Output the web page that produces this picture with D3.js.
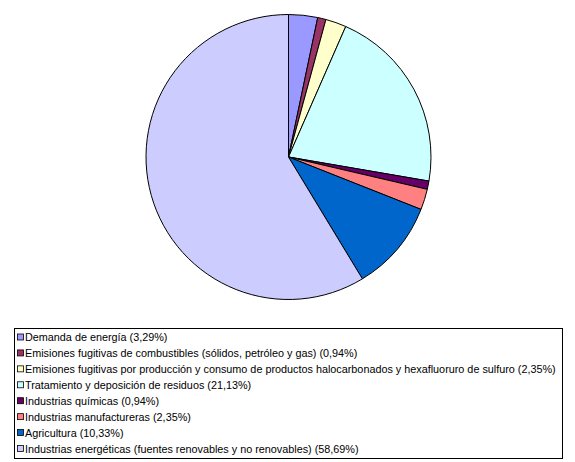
<!DOCTYPE html>
<html>
<head>
<meta charset="utf-8">
<script src="https://cdn.jsdelivr.net/npm/d3@7"></script>
<style>
  html, body { margin: 0; padding: 0; background: #fff; }
  svg { display: block; }
</style>
</head>
<body>
<svg id="chart" width="575" height="462"></svg>
<script>
const categories = [
  "Demanda de energía (3,29%)",
  "Emisiones fugitivas de combustibles (sólidos, petróleo y gas) (0,94%)",
  "Emisiones fugitivas por producción y consumo de productos halocarbonados y hexafluoruro de sulfuro (2,35%)",
  "Tratamiento y deposición de residuos (21,13%)",
  "Industrias químicas (0,94%)",
  "Industrias manufactureras (2,35%)",
  "Agricultura (10,33%)",
  "Industrias energéticas (fuentes renovables y no renovables) (58,69%)"
];
const values = [3.29, 0.94, 2.35, 21.13, 0.94, 2.35, 10.33, 58.69];
const colors = ["#9999FF", "#993366", "#FFFFCC", "#CCFFFF", "#660066", "#FF8080", "#0066CC", "#CCCCFF"];

const svg = d3.select("#chart");
const cx = 288.5, cy = 157, r = 142.5;

const pie = d3.pie().sort(null).value(d => d)(values);
const arc = d3.arc().innerRadius(0).outerRadius(r);
const color = d3.scaleOrdinal().domain(d3.range(values.length)).range(colors);

svg.append("g")
  .attr("transform", `translate(${cx},${cy})`)
  .selectAll("path")
  .data(pie)
  .join("path")
  .attr("d", arc)
  .attr("fill", (d, i) => color(i))
  .attr("stroke", "#000")
  .attr("stroke-width", 1)
  .attr("stroke-linejoin", "round");

// Legend
const lx = 14.5, ly = 328.5, lw = 548, lh = 130;
const lg = svg.append("g");
lg.append("rect")
  .attr("x", lx).attr("y", ly).attr("width", lw).attr("height", lh)
  .attr("fill", "#fff").attr("stroke", "#000").attr("stroke-width", 1);

const rowY = d3.scaleLinear().domain([0, categories.length - 1]).range([337.5, 449]);

const items = lg.selectAll("g.item")
  .data(categories)
  .join("g")
  .attr("class", "item");

items.append("rect")
  .attr("x", 17.5)
  .attr("y", (d, i) => rowY(i) - 3.5)
  .attr("width", 6).attr("height", 6)
  .attr("fill", (d, i) => color(i))
  .attr("stroke", "#000").attr("stroke-width", 0.8);

const texts = items.append("text")
  .attr("x", 25)
  .attr("y", (d, i) => rowY(i))
  .attr("dy", "0.35em")
  .attr("font-family", "Liberation Sans, Arial, sans-serif")
  .attr("font-size", 11)
  .attr("fill", "#000")
  .text(d => d);

// fit font size so the longest label matches the reference width
const longest = texts.nodes()[2];
const w = longest.getComputedTextLength();
const target = 531;
const fs = 11 * target / w;
texts.attr("font-size", fs.toFixed(2));
</script>
</body>
</html>
